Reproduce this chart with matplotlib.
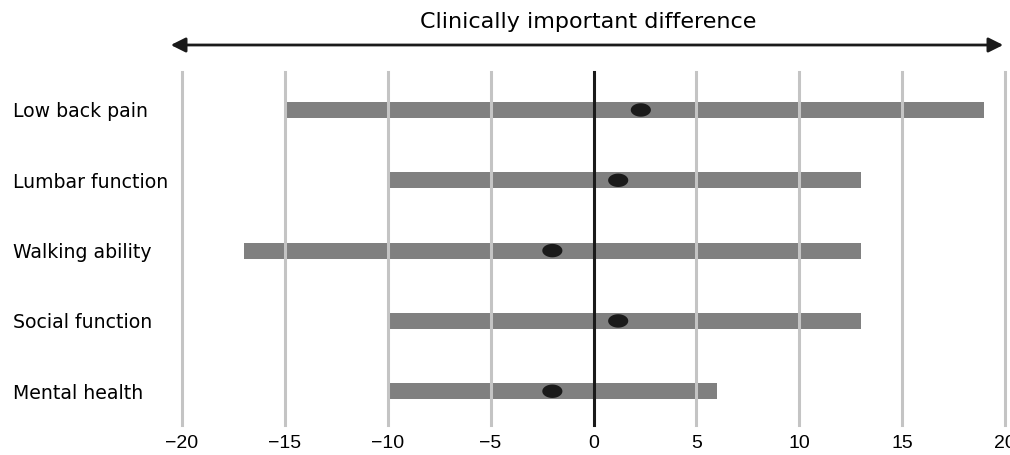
import matplotlib.pyplot as plt
import matplotlib.patches as mpatches
from matplotlib.path import Path
import numpy as np

plt.rcParams['font.family'] = ['DejaVu Sans']

outcomes = ['Low back pain', 'Lumbar function', 'Walking ability', 'Social function', 'Mental health']
lower = [-15, -10, -17, -10, -10]
upper = [19, 13, 13, 13, 6]
estimate = [2.3, 1.2, -2.0, 1.2, -2.0]
xticks = [-20, -15, -10, -5, 0, 5, 10, 15, 20]

fig = plt.figure(figsize=(10.1, 4.55), dpi=100)
# axes spans pixel x 182..1005, y 72..425
ax = fig.add_axes([182/1010, 1 - 425/455, (1005-182)/1010, (425-72)/455])

y = np.arange(len(outcomes))
lower = np.array(lower)
upper = np.array(upper)
ax.barh(y, upper - lower, left=lower, height=0.23, color='#808080', zorder=2)

# grid lines sit on top of the bars
for t in xticks:
    if t == 0:
        ax.axvline(t, color='#1a1a1a', lw=2.2, zorder=4, clip_on=False)
    else:
        ax.axvline(t, color='#c4c4c4', lw=2.2, zorder=3, clip_on=False)

# flat ellipse marker
th = np.linspace(0, 2*np.pi, 60)
ell = Path(np.column_stack([1.5*np.cos(th), np.sin(th)]), closed=True)
ax.scatter(estimate, y, s=210, marker=ell, color='#1a1a1a', zorder=5,
           edgecolors='none')

ax.set_xlim(-20, 20)
ax.set_ylim(4.48, -0.54)
ax.set_xticks(xticks)
ax.set_xticklabels([str(t).replace('-', '\u2212') for t in xticks], fontsize=14,
                   family='Liberation Sans')
ax.tick_params(axis='x', length=0, pad=7)
ax.set_yticks(y)
ax.set_yticklabels(outcomes, fontsize=13.6, ha='left', va='center_baseline')
ax.tick_params(axis='y', length=0, pad=122)
for s in ax.spines.values():
    s.set_visible(False)

fig.text(588/1010, 1 - 22/455, 'Clinically important difference', ha='center',
         va='center', fontsize=16)
fig.patches.append(mpatches.FancyArrowPatch(
    (168/1010, 1 - 45/455), (1006/1010, 1 - 45/455), transform=fig.transFigure,
    arrowstyle='<|-|>', mutation_scale=22, color='#1a1a1a', lw=2))

fig.savefig('out.png', dpi=100)
